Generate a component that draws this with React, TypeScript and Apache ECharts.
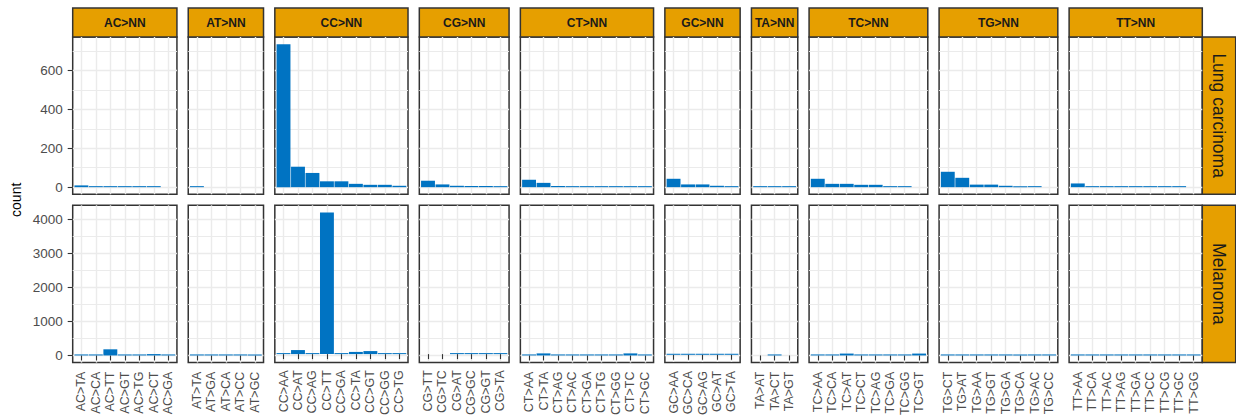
import React, { useEffect, useRef } from "react";
import * as echarts from "echarts";

// Column facets (reference dinucleotide) and their substitution categories
const facets = ["AC>NN", "AT>NN", "CC>NN", "CG>NN", "CT>NN", "GC>NN", "TA>NN", "TC>NN", "TG>NN", "TT>NN"];
const acCats = ["AC>TA", "AC>CA", "AC>TT", "AC>GT", "AC>TG", "AC>CT", "AC>GA"];
const atCats = ["AT>TA", "AT>GA", "AT>CA", "AT>CC", "AT>GC"];
const ccCats = ["CC>AA", "CC>AT", "CC>AG", "CC>TT", "CC>GA", "CC>TA", "CC>GT", "CC>GG", "CC>TG"];
const cgCats = ["CG>TT", "CG>TC", "CG>AT", "CG>GC", "CG>GT", "CG>TA"];
const ctCats = ["CT>AA", "CT>TA", "CT>AG", "CT>AC", "CT>GA", "CT>TG", "CT>GG", "CT>TC", "CT>GC"];
const gcCats = ["GC>AA", "GC>CA", "GC>AG", "GC>AT", "GC>TA"];
const taCats = ["TA>AT", "TA>CT", "TA>GT"];
const tcCats = ["TC>AA", "TC>CA", "TC>AT", "TC>CT", "TC>AG", "TC>GA", "TC>GG", "TC>GT"];
const tgCats = ["TG>CT", "TG>AT", "TG>AA", "TG>GT", "TG>GA", "TG>CA", "TG>AC", "TG>CC"];
const ttCats = ["TT>AA", "TT>CA", "TT>AC", "TT>AG", "TT>GA", "TT>CC", "TT>CG", "TT>GC", "TT>GG"];
const facetCats = [acCats, atCats, ccCats, cgCats, ctCats, gcCats, taCats, tcCats, tgCats, ttCats];

// Row facets (cancer type)
const rowNames = ["Lung carcinoma", "Melanoma"];

// Counts per facet, in category order (null = substitution not observed)
const lungCounts: (number | null)[][] = [
  [9, 5, 5, 2, 2, 2, null],
  [2, null, null, null, null],
  [735, 105, 73, 30, 30, 17, 12, 12, 7],
  [33, 14, 7, 6, 6, 3],
  [38, 22, 6, 5, 5, 5, 5, 5, 2],
  [43, 14, 14, 7, 2],
  [5, 2, 2],
  [43, 17, 17, 12, 12, 2, 2, null],
  [79, 48, 13, 13, 7, 5, 2, null],
  [19, 5, 2, 2, 2, 2, 2, 2, null],
];
const melanomaCounts: (number | null)[][] = [
  [15, 15, 180, 10, 10, 40, 10],
  [10, 10, 10, 10, 10],
  [10, 120, 10, 4200, 10, 65, 90, 10, 25],
  [null, null, 10, 10, 10, 10],
  [10, 60, 10, 10, 10, 10, 10, 60, 10],
  [10, 10, 10, 10, 10],
  [null, 10, null],
  [10, 10, 55, 25, 10, 10, 10, 55],
  [10, 10, 10, 10, 10, 10, 10, 10],
  [10, 10, 10, 10, 10, 10, 10, 10, 10],
];
const rowCounts = [lungCounts, melanomaCounts];

// y-axis breaks per row
const lungTicks = [0, 200, 400, 600];
const lungMinorTicks = [100, 300, 500, 700];
const melanomaTicks = [0, 1000, 2000, 3000, 4000];
const melanomaMinorTicks = [500, 1500, 2500, 3500];
const rowTicks = [lungTicks, melanomaTicks];
const rowMinorTicks = [lungMinorTicks, melanomaMinorTicks];

const FONT = "'Liberation Sans', Arial, Helvetica, sans-serif";
const BAR_COLOR = "#0073C2";
const STRIP_FILL = "#E69F00";
const BORDER = "#333333";
const GRID_LINE = "#EBEBEB";

// layout
const PANEL_LEFT = 72.7;
const PANEL_RIGHT = 1202.3;
const PANEL_GAP = 11.3;
const STRIP_TOP = 8;
const ROW_TOPS = [37, 205.3];
const ROW_HEIGHT = 157.3;
const ROW_STRIP_RIGHT = 1235.7;

export default function App() {
  const ref = useRef<HTMLDivElement>(null);

  useEffect(() => {
    const chart = echarts.init(ref.current!, null, { renderer: "svg" });
    const nCols = facets.length;
    const total = facetCats.reduce((s, c) => s + c.length, 0);
    // each panel spans n + 0.2 category units (0.6 units of padding on each side)
    const unit = (PANEL_RIGHT - PANEL_LEFT - (nCols - 1) * PANEL_GAP) / (total + 0.2 * nCols);

    const colX: number[] = [];
    const colW: number[] = [];
    let x = PANEL_LEFT;
    facetCats.forEach((cats) => {
      colX.push(x);
      const w = (cats.length + 0.2) * unit;
      colW.push(w);
      x += w + PANEL_GAP;
    });

    const grid: any[] = [];
    const xAxis: any[] = [];
    const yAxis: any[] = [];
    const series: any[] = [];
    const graphic: any[] = [];

    rowCounts.forEach((counts, r) => {
      const peak = Math.max(...counts.flat().map((v) => (v == null ? 0 : v)));
      const yMin = -0.05 * peak;
      const yMax = 1.05 * peak;
      const top = ROW_TOPS[r];

      facetCats.forEach((cats, c) => {
        // background panel: border + horizontal grid lines
        const bgGrid = grid.length;
        grid.push({
          left: colX[c],
          top,
          width: colW[c],
          height: ROW_HEIGHT,
          show: true,
          backgroundColor: "#FFFFFF",
          borderColor: BORDER,
          borderWidth: 1.5,
        });
        xAxis.push({ type: "value", gridIndex: bgGrid, min: 0, max: 1, show: false });
        yAxis.push({
          type: "value",
          gridIndex: bgGrid,
          min: yMin,
          max: yMax,
          axisLine: { show: false },
          axisTick: {
            show: c === 0,
            length: 5,
            customValues: rowTicks[r],
            lineStyle: { color: BORDER, width: 1.1 },
          },
          axisLabel: {
            show: c === 0,
            customValues: rowTicks[r],
            formatter: (v: number) => String(v),
            margin: 10,
            color: "#4D4D4D",
            fontSize: 13.5,
            fontFamily: FONT,
          },
          splitLine: { show: true, lineStyle: { color: GRID_LINE, width: 1.4 } },
        });
        yAxis.push({
          type: "value",
          gridIndex: bgGrid,
          min: yMin,
          max: yMax,
          position: "left",
          axisLine: { show: false },
          axisTick: { show: false, customValues: rowMinorTicks[r] },
          axisLabel: { show: false },
          splitLine: { show: true, lineStyle: { color: GRID_LINE, width: 1 } },
        });

        // bar panel, inset by the remaining 0.1 unit of padding
        const barGrid = grid.length;
        grid.push({
          left: colX[c] + 0.1 * unit,
          top,
          width: cats.length * unit,
          height: ROW_HEIGHT,
          show: false,
        });
        const xIdx = xAxis.length;
        xAxis.push({
          type: "category",
          gridIndex: barGrid,
          data: cats,
          axisLine: { show: false },
          axisTick: {
            show: r === 1,
            alignWithLabel: true,
            interval: 0,
            length: 5,
            lineStyle: { color: BORDER, width: 1.1 },
          },
          axisLabel: {
            show: r === 1,
            interval: 0,
            rotate: 90,
            margin: 9,
            fontSize: 12.5,
            color: "#4D4D4D",
            fontFamily: FONT,
          },
          splitLine: {
            show: true,
            alignWithLabel: true,
            interval: 0,
            lineStyle: { color: GRID_LINE, width: 1.4 },
          },
        });
        const yIdx = yAxis.length;
        yAxis.push({ type: "value", gridIndex: barGrid, min: yMin, max: yMax, show: false });
        series.push({
          type: "bar",
          name: `${rowNames[r]} ${facets[c]}`,
          xAxisIndex: xIdx,
          yAxisIndex: yIdx,
          data: counts[c],
          barCategoryGap: "4%",
          barMinHeight: 1,
          silent: true,
          itemStyle: { color: BAR_COLOR },
        });
      });

      // row strip on the right
      graphic.push({
        type: "rect",
        shape: { x: PANEL_RIGHT, y: top, width: ROW_STRIP_RIGHT - PANEL_RIGHT, height: ROW_HEIGHT },
        style: { fill: STRIP_FILL, stroke: BORDER, lineWidth: 1.5 },
        silent: true,
      });
      graphic.push({
        type: "text",
        x: (PANEL_RIGHT + ROW_STRIP_RIGHT) / 2,
        y: top + ROW_HEIGHT / 2,
        rotation: -Math.PI / 2,
        style: {
          text: rowNames[r],
          fill: "#1A1A1A",
          font: `17.5px ${FONT}`,
          align: "center",
          verticalAlign: "middle",
        },
        silent: true,
      });
    });

    // column strips on top
    facets.forEach((name, c) => {
      graphic.push({
        type: "rect",
        shape: { x: colX[c], y: STRIP_TOP, width: colW[c], height: ROW_TOPS[0] - STRIP_TOP },
        style: { fill: STRIP_FILL, stroke: BORDER, lineWidth: 1.5 },
        silent: true,
      });
      graphic.push({
        type: "text",
        x: colX[c] + colW[c] / 2,
        y: (STRIP_TOP + ROW_TOPS[0]) / 2,
        style: {
          text: name,
          fill: "#1A1A1A",
          font: `bold 12px ${FONT}`,
          align: "center",
          verticalAlign: "middle",
        },
        silent: true,
      });
    });

    // y-axis title
    graphic.push({
      type: "text",
      x: 16,
      y: (ROW_TOPS[0] + ROW_TOPS[1] + ROW_HEIGHT) / 2,
      rotation: Math.PI / 2,
      style: {
        text: "count",
        fill: "#000000",
        font: `14px ${FONT}`,
        align: "center",
        verticalAlign: "middle",
      },
      silent: true,
    });

    chart.setOption({
      animation: false,
      backgroundColor: "#FFFFFF",
      grid,
      xAxis,
      yAxis,
      series,
      graphic,
    });

    return () => chart.dispose();
  }, []);

  return (
    <div
      ref={ref}
      style={{ position: "absolute", left: 0, top: 0, width: 1236, height: 418 }}
    />
  );
}
